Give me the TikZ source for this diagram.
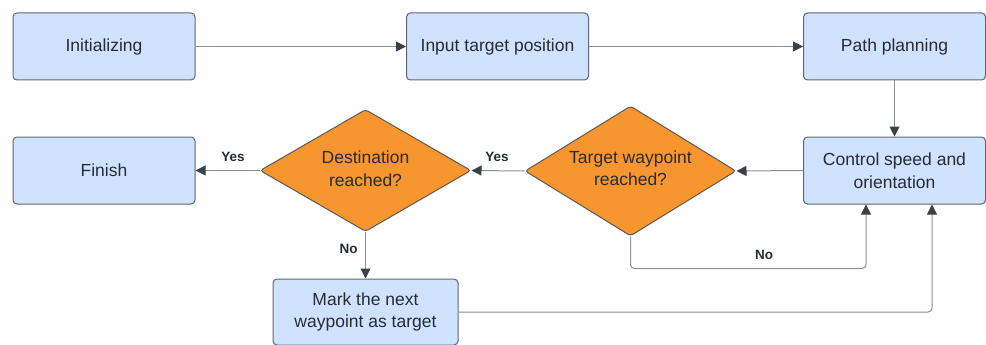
\documentclass[tikz,border=0pt]{standalone}
\usepackage{fontspec}
\setmainfont{Liberation Sans}
\usetikzlibrary{shapes.geometric,arrows.meta}
\definecolor{boxfill}{RGB}{207,226,255}
\definecolor{boxline}{RGB}{95,103,112}
\definecolor{dfill}{RGB}{247,149,47}
\definecolor{dline}{RGB}{90,90,90}
\definecolor{txt}{RGB}{40,44,51}
\definecolor{conn}{RGB}{138,143,150}
\definecolor{tipc}{RGB}{58,65,74}
\tikzset{
  box/.style={draw=boxline, fill=boxfill, line width=1pt, rounded corners=4pt,
    minimum width=182pt, minimum height=67pt, inner sep=0pt, align=center,
    text=txt, font=\fontsize{17.5}{22.5}\selectfont},
  diam/.style={diamond, draw=dline, fill=dfill, line width=1pt, rounded corners=3pt,
    minimum width=211pt, minimum height=122pt, inner sep=0pt},
  dtext/.style={align=center, text=txt, font=\fontsize{17.5}{22.5}\selectfont},
  link/.style={draw=conn, line width=1pt, rounded corners=4pt,
    -{Triangle[length=10pt,width=10pt,color=tipc,fill=tipc]}},
  lab/.style={text=txt, font=\bfseries\fontsize{13.5}{16}\selectfont}
}
\begin{document}
\begin{tikzpicture}[x=1pt,y=-1pt]
\useasboundingbox (0,0) rectangle (986,345);
\node[box] (init) at (104,46.5) {Initializing};
\node[box] (input) at (497.5,46.5) {Input target position};
\node[box] (path) at (894.5,46.5) {Path planning};
\node[box] (finish) at (104,170.5) {Finish};
\node[box] (ctrl) at (894.5,170.5) {Control speed and\\orientation};
\node[box, minimum width=185pt, minimum height=66pt] (mark) at (365.5,312) {Mark the next\\waypoint as target};
\node[diam] (dest) at (365.5,170.5) {};
\node[dtext] (destt) at ([yshift=2pt]dest.center) {Destination\\reached?};
\node[diam, minimum height=130pt] (tw) at (630.5,171) {};
\node[dtext] (twt) at ([yshift=3pt]tw.center) {Target waypoint\\reached?};
\draw[link] (init) -- (input);
\draw[link] (input) -- (path);
\draw[link] (path) -- (ctrl);
\draw[link] (ctrl.west) -- (tw.east);
\draw[link] (tw.west) -- (dest.east);
\draw[link] (dest.west) -- (finish.east);
\draw[link] (dest.south) -- (mark.north);
\draw[link] (tw.south) -- ++(0,32) -| ([xshift=-28.5pt]ctrl.south);
\draw[link] (mark.east) -| ([xshift=37.5pt]ctrl.south);
\node[lab] (y1) at (497,157) {Yes};
\node[lab] (y2) at (233,157) {Yes};
\node[lab] (n1) at (348.5,248.5) {No};
\node[lab] (n2) at (764,255) {No};
\end{tikzpicture}
\end{document}
